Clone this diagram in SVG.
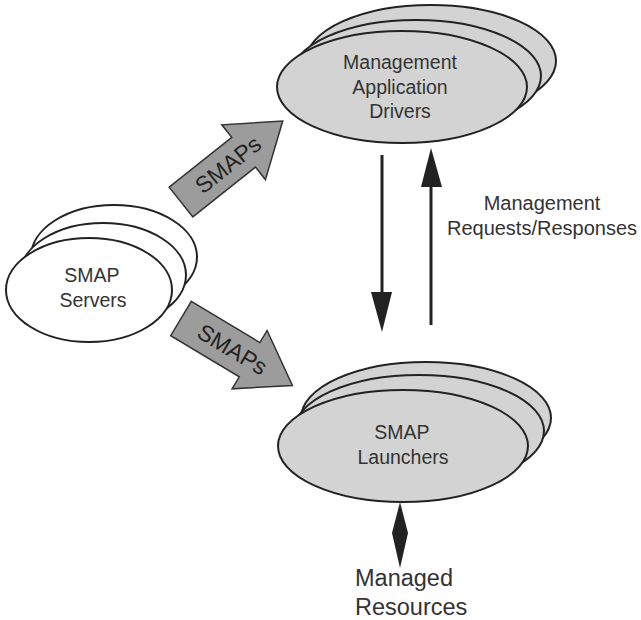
<svg xmlns="http://www.w3.org/2000/svg" width="641" height="620" viewBox="0 0 641 620">
<defs>
<style>
.node { fill: #d3d3d3; stroke: #222; stroke-width: 2; }
.srv { fill: #ffffff; stroke: #222; stroke-width: 2; }
.txt { font-family: "Liberation Sans", Arial, sans-serif; fill: #333; text-anchor: middle; }
.big { fill: #9c9c9c; stroke: #333; stroke-width: 1.5; }
.line { stroke: #222; stroke-width: 3; fill: none; }
.head { fill: #222; }
</style>
</defs>
<rect width="641" height="620" fill="#ffffff"/>

<g id="drivers">
<ellipse class="node" cx="431" cy="61" rx="125" ry="56"/>
<ellipse class="node" cx="416" cy="76" rx="125" ry="56"/>
<ellipse class="node" cx="402" cy="87" rx="125" ry="56"/>
<text class="txt" x="400" y="69" font-size="19.5">Management</text>
<text class="txt" x="400" y="94" font-size="19.5">Application</text>
<text class="txt" x="400" y="118" font-size="19.5">Drivers</text>
</g>

<g id="servers">
<ellipse class="srv" cx="114" cy="257" rx="83" ry="52"/>
<ellipse class="srv" cx="103" cy="275" rx="83" ry="52"/>
<ellipse class="srv" cx="89" cy="290" rx="83" ry="52"/>
<text class="txt" x="92" y="282" font-size="19.5">SMAP</text>
<text class="txt" x="93" y="307" font-size="19.5">Servers</text>
</g>

<g id="launchers">
<ellipse class="node" cx="426" cy="418" rx="125" ry="56"/>
<ellipse class="node" cx="419" cy="431" rx="125" ry="56"/>
<ellipse class="node" cx="403" cy="446" rx="125" ry="56"/>
<text class="txt" x="402" y="439" font-size="19.5">SMAP</text>
<text class="txt" x="403" y="464" font-size="19.5">Launchers</text>
</g>

<g id="smaps-up" transform="translate(181,202) rotate(-38.5)">
<polygon class="big" points="0,-19 80,-19 80,-35 130,0 80,35 80,19 0,19"/>
<text class="txt" x="60" y="8" font-size="23" style="fill:#222">SMAPs</text>
</g>

<g id="smaps-down" transform="translate(181,318.5) rotate(31)">
<polygon class="big" points="0,-20 80,-20 80,-34 130,0 80,34 80,20 0,20"/>
<text class="txt" x="60" y="8" font-size="23" style="fill:#222">SMAPs</text>
</g>

<g id="connectors">
<line class="line" x1="382" y1="155" x2="382" y2="295"/>
<polygon class="head" points="371,292 392,292 382,332"/>
<line class="line" x1="431" y1="325" x2="431" y2="185"/>
<polygon class="head" points="421,187 442,187 431,148"/>
<polygon class="head" points="400,502 408,533 400,568 392,533"/>
</g>

<g id="labels">
<text class="txt" x="542" y="210" font-size="20">Management</text>
<text class="txt" x="542" y="235" font-size="20">Requests/Responses</text>
<text class="txt" x="355" y="586" font-size="23.5" style="text-anchor:start">Managed</text>
<text class="txt" x="355" y="615" font-size="23.5" style="text-anchor:start">Resources</text>
</g>
</svg>
